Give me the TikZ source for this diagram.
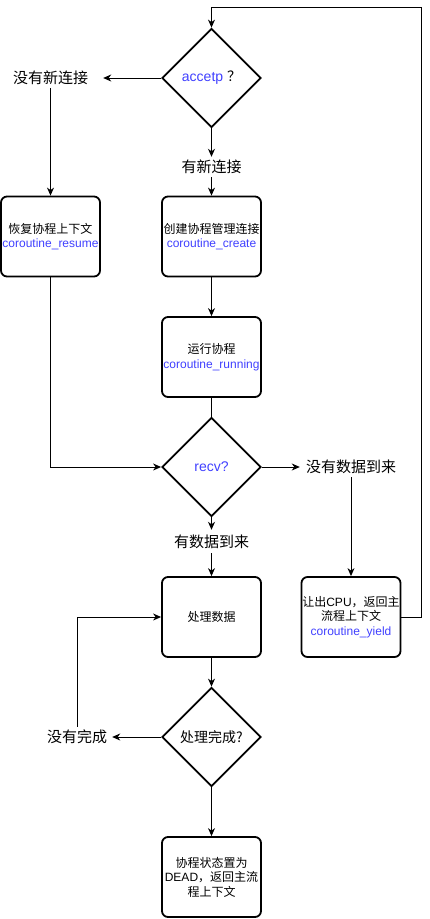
\documentclass[tikz,border=0pt]{standalone}
\usepackage{fontspec}
\setmainfont{Liberation Sans}
\newfontfamily\cjk{Noto Sans CJK SC}
\usetikzlibrary{shapes.geometric,arrows.meta}
\definecolor{cblue}{RGB}{64,64,255}
\newcommand\zh[1]{{\cjk #1}}
\newcommand\bl[1]{\textcolor{cblue}{#1}}
\begin{document}
\begin{tikzpicture}[x=1pt,y=-1pt,
 box/.style={draw,line width=1.8pt,rounded corners=6pt,minimum width=99pt,minimum height=80pt,inner sep=0.5pt,align=center,font=\fontsize{12}{14.5}\selectfont},
 dia/.style={draw,diamond,line width=1.8pt,minimum width=99pt,minimum height=99pt,inner sep=0pt,aspect=1,font=\fontsize{14}{16}\selectfont},
 lbl/.style={inner sep=0pt,font=\fontsize{15}{17}\selectfont},
 arr/.style={line width=1pt,-{Stealth[length=8pt,width=7pt,inset=2.5pt]}},
 ln/.style={line width=1pt}]
\path[use as bounding box] (0,0) rectangle (430,919);

\node[dia] (acc) at (211.5,78) {\bl{accetp} \zh{？}};
\node[lbl,minimum width=105pt,minimum height=20pt] (nolink) at (50.5,78) {\zh{没有新连接}};
\node[lbl,minimum height=20pt] (haslink) at (211.5,167) {\zh{有新连接}};
\node[box] (resume) at (50.5,236.5) {\zh{恢复协程上下文}\\\bl{coroutine\_resume}};
\node[box] (create) at (211.5,236.5) {\zh{创建协程管理连接}\\\bl{coroutine\_create}};
\node[box] (run) at (211.5,357) {\zh{运行协程}\\\bl{coroutine\_running}};
\node[dia] (recv) at (211.5,467) {\bl{recv?}};
\node[lbl,minimum width=102pt,minimum height=20pt] (nodata) at (351,467) {\zh{没有数据到来}};
\node[lbl,minimum height=23pt] (hasdata) at (211.5,541.5) {\zh{有数据到来}};
\node[box] (proc) at (211.5,617) {\zh{处理数据}};
\node[box] (yield) at (351,617) {\zh{让出}CPU\zh{，返回主}\\\zh{流程上下文}\\\bl{coroutine\_yield}};
\node[dia] (done) at (211.5,737) {\zh{处理完成?}};
\node[lbl,minimum width=70pt,minimum height=20pt] (nodone) at (77,737) {\zh{没有完成}};
\node[box] (dead) at (211.5,877) {\zh{协程状态置为}\\DEAD\zh{，返回主流}\\\zh{程上下文}};
\coordinate (tr) at (421,7);

\draw[arr] (acc.west) -- (nolink.east);
\draw[arr] (acc.south) -- (haslink.north);
\draw[arr] (haslink.south) -- (create.north);
\draw[arr] (nolink.south) -- (resume.north);
\draw[arr] (create.south) -- (run.north);
\draw[ln] (run.south) -- (recv.north);
\draw[arr] (resume.south) |- (recv.west);
\draw[arr] (recv.east) -- (nodata.west);
\draw[arr] (nodata.south) -- (yield.north);
\draw[arr] (recv.south) -- (hasdata.north);
\draw[arr] (hasdata.south) -- (proc.north);
\draw[arr] (proc.south) -- (done.north);
\draw[arr] (done.west) -- (nodone.east);
\draw[arr] (nodone.north) |- (proc.west);
\draw[arr] (done.south) -- (dead.north);
\draw[arr] (yield.east) -| (tr) -| (acc.north);
\end{tikzpicture}
\end{document}
